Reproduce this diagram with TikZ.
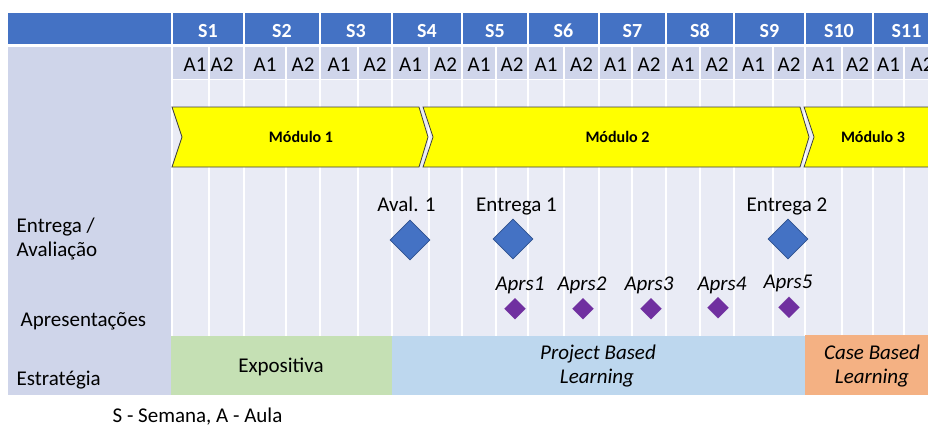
\documentclass[tikz,border=0pt]{standalone}
\usepackage{fontspec}
\setmainfont{Carlito}
\usetikzlibrary{shapes.geometric}
\definecolor{hdr}{HTML}{4472C4}
\definecolor{arow}{HTML}{CFD5EA}
\definecolor{lightrow}{HTML}{E9EBF5}
\definecolor{expo}{HTML}{C5E0B4}
\definecolor{pbl}{HTML}{BDD7EE}
\definecolor{cbl}{HTML}{F4B183}
\definecolor{bigdia}{HTML}{4472C4}
\definecolor{bigdiaedge}{HTML}{2F528F}
\definecolor{smalldia}{HTML}{7030A0}
\definecolor{modyellow}{HTML}{FFFF00}
\begin{document}
\begin{tikzpicture}[x=1pt,y=-1pt,
  txt/.style={inner sep=0pt, anchor=base, font=\fontsize{21}{25}\selectfont},
  hdrtxt/.style={inner sep=0pt, anchor=base, text=white, font=\fontsize{20}{24}\selectfont\bfseries},
  modtxt/.style={inner sep=0pt, anchor=base, font=\fontsize{16}{19}\selectfont\bfseries},
  lefttxt/.style={inner sep=0pt, anchor=base west, font=\fontsize{21}{25}\selectfont},
  itxt/.style={inner sep=0pt, anchor=base, font=\fontsize{21}{25}\selectfont\itshape},
  modshape/.style={draw=black!75, line width=0.8pt, fill=modyellow, line join=miter},
  gridline/.style={white, line width=1.6pt},
  bigdiamond/.style={diamond, aspect=1, inner sep=0pt, minimum width=40pt, minimum height=40pt, fill=bigdia, draw=bigdiaedge, line width=0.6pt},
  smalldiamond/.style={diamond, aspect=1, inner sep=0pt, minimum width=21pt, minimum height=21pt, fill=smalldia, draw=smalldia, line width=0.3pt}
]
\useasboundingbox (0,0) rectangle (928,426);
\begin{scope}
\clip (0,0) rectangle (928,426);
% backgrounds
\fill[hdr] (8,13) rectangle (940,44);
\fill[arow] (8,47) rectangle (172,395);
\fill[arow] (172,47) rectangle (940,79.5);
\fill[lightrow] (172,79.5) rectangle (940,336);
% grid lines
\foreach \x in {172,244,320,392,462,528,599,666,734,805,873}
  \draw[gridline] (\x,13) -- (\x,336);
\foreach \x in {209,286,358,429,496,564,632,700,773,842,904}
  \draw[gridline] (\x,47) -- (\x,336);
\draw[gridline] (172,79.5) -- (940,79.5);
% strategy band
\fill[expo] (171,336) rectangle (392,395);
\fill[pbl] (392,336) rectangle (805,395);
\fill[cbl] (805,335) rectangle (940,395);
% modules
\draw[modshape] (172,107) -- (419,107) -- (428,137) -- (419,167) -- (172,167) -- (182,137) -- cycle;
\draw[modshape] (423,107) -- (800,107) -- (809,137) -- (800,167) -- (423,167) -- (433,137) -- cycle;
\draw[modshape] (804,107) -- (940,107) -- (940,167) -- (804,167) -- (814,137) -- cycle;
\node[modtxt] (m1) at (301,142.7) {Módulo 1};
\node[modtxt] (m2) at (617.5,142.7) {Módulo 2};
\node[modtxt] (m3) at (873,142.7) {Módulo 3};
% header labels
\node[hdrtxt] (s1) at (208,37) {S1};
\node[hdrtxt] (s2) at (282,37) {S2};
\node[hdrtxt] (s3) at (356,37) {S3};
\node[hdrtxt] (s4) at (427,37) {S4};
\node[hdrtxt] (s5) at (495,37) {S5};
\node[hdrtxt] (s6) at (563.5,37) {S6};
\node[hdrtxt] (s7) at (632.5,37) {S7};
\node[hdrtxt] (s8) at (700,37) {S8};
\node[hdrtxt] (s9) at (769.5,37) {S9};
\node[hdrtxt] (s10) at (839,37) {S10};
\node[hdrtxt] (s11) at (906.5,37) {S11};
% A labels
\node[txt] (a1-1) at (195,71) {A1};
\node[txt] (a1-2) at (222,71) {A2};
\foreach \i/\xa/\xb in {2/265/303,3/339/375,4/410.5/445.5,5/479/512,6/546/581.5,7/615.5/649,8/683/717,9/753.5/789,10/823.5/857.5,11/888.5/922}{
  \node[txt] (a\i-1) at (\xa,71) {A1};
  \node[txt] (a\i-2) at (\xb,71) {A2};
}
% left labels
\node[lefttxt] (lent) at (16.5,232) {Entrega /};
\node[lefttxt] (lava) at (16.5,256) {Avaliação};
\node[lefttxt] (lapr) at (20.5,326) {Apresentações};
\node[lefttxt] (lest) at (16.5,385) {Estratégia};
% deliveries
\node[txt] (tav1) at (406.5,211) {Aval. 1};
\node[txt] (ten1) at (516.5,211) {Entrega 1};
\node[txt] (ten2) at (787,211) {Entrega 2};
\node[bigdiamond] (dav1) at (410,240) {};
\node[bigdiamond] (den1) at (513,239) {};
\node[bigdiamond] (den2) at (788,239) {};
% presentations
\node[itxt] (tap1) at (520,290) {Aprs1};
\node[itxt] (tap2) at (582,290) {Aprs2};
\node[itxt] (tap3) at (649,290) {Aprs3};
\node[itxt] (tap4) at (722,290) {Aprs4};
\node[itxt] (tap5) at (788,288.5) {Aprs5};
\node[smalldiamond] (dap1) at (515,308.7) {};
\node[smalldiamond] (dap2) at (583,308.7) {};
\node[smalldiamond] (dap3) at (651,308.7) {};
\node[smalldiamond] (dap4) at (718,307.8) {};
\node[smalldiamond] (dap5) at (789,307.2) {};
% strategies
\node[txt] (texp) at (281,372) {Expositiva};
\node[itxt] (tpbl1) at (598,359.7) {Project Based};
\node[itxt] (tpbl2) at (597,383) {Learning};
\node[itxt] (tcbl1) at (872,359.7) {Case Based};
\node[itxt] (tcbl2) at (872,383) {Learning};
\end{scope}
% footer
\node[txt] (foot) at (197.5,422.3) {S - Semana, A - Aula};
\end{tikzpicture}
\end{document}
